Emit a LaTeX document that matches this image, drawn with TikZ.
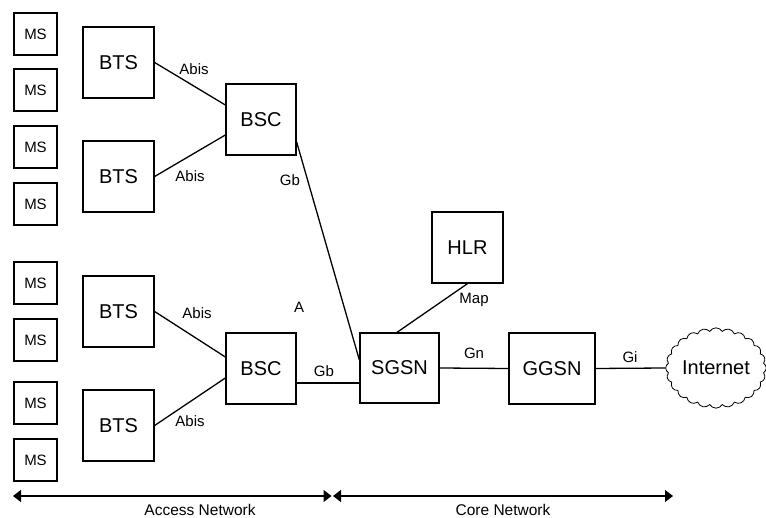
\documentclass[tikz,border=0pt]{standalone}
\usepackage{fontspec}
\setmainfont{Liberation Sans}
\usetikzlibrary{shapes.symbols,arrows.meta}
\begin{document}
\begin{tikzpicture}[x=1pt,y=-1pt,
  box/.style={draw,line width=1.3pt,inner sep=0pt,fill=white},
  msbox/.style={box,minimum width=43pt,minimum height=42pt,font=\fontsize{15}{17}\selectfont},
  bigbox/.style={box,minimum width=71pt,minimum height=71pt,font=\fontsize{20}{23}\selectfont},
  lbl/.style={font=\fontsize{15}{17}\selectfont,inner sep=0pt},
  conn/.style={line width=1.3pt},
  span/.style={line width=1.2pt,{Triangle[length=8pt,width=12pt]}-{Triangle[length=8pt,width=12pt]}}]
\useasboundingbox (0,0) rectangle (766,518);
% MS
\node[msbox] (ms1) at (35.5,34) {MS};
\node[msbox] (ms2) at (35.5,90) {MS};
\node[msbox] (ms3) at (35.5,147) {MS};
\node[msbox] (ms4) at (35.5,204) {MS};
\node[msbox] (ms5) at (35.5,283) {MS};
\node[msbox] (ms6) at (35.5,340) {MS};
\node[msbox] (ms7) at (35.5,403) {MS};
\node[msbox] (ms8) at (35.5,460) {MS};
% BTS
\node[bigbox] (bts1) at (118.5,62.5) {BTS};
\node[bigbox] (bts2) at (118.5,176.5) {BTS};
\node[bigbox] (bts3) at (118.5,311.5) {BTS};
\node[bigbox] (bts4) at (118.5,425.5) {BTS};
% BSC
\node[bigbox,minimum width=70pt] (bsc1) at (261,119.5) {BSC};
\node[bigbox,minimum width=70pt] (bsc2) at (261,368.5) {BSC};
% Core
\node[bigbox,minimum width=79pt,minimum height=70pt] (sgsn) at (399.5,368) {SGSN};
\node[bigbox,minimum width=86pt] (ggsn) at (552,368.5) {GGSN};
\node[bigbox] (hlr) at (467.5,247.5) {HLR};
\node[cloud,draw,line width=0.8pt,cloud puffs=24,cloud puff arc=120,aspect=1.3,
  minimum width=99pt,minimum height=77pt,inner sep=0pt,
  font=\fontsize{20}{23}\selectfont] (inet) at (716,368) {Internet};
% connectors
\draw[conn] (bts1.east) -- ([yshift=14.5pt]bsc1.west);
\draw[conn] (bts2.east) -- ([yshift=-15.5pt]bsc1.west);
\draw[conn] (bts3.east) -- ([yshift=11.5pt]bsc2.west);
\draw[conn] (bts4.east) -- ([yshift=-9.5pt]bsc2.west);
\draw[conn] ([yshift=-22.5pt]bsc1.east) -- ([yshift=8pt]sgsn.west);
\draw[conn] ([yshift=-14.5pt]bsc2.east) -- ([yshift=-15pt]sgsn.west);
\draw[conn] (hlr.south) -- ([xshift=-2.5pt]sgsn.north);
\draw[conn] (sgsn.east) -- (ggsn.west);
\draw[conn] (ggsn.east) -- (inet.west);
% labels
\node[lbl] (l1) at (194,69) {Abis};
\node[lbl] (l2) at (190,176) {Abis};
\node[lbl] (l3) at (290,180) {Gb};
\node[lbl] (l4) at (197,313) {Abis};
\node[lbl] (l5) at (190,421) {Abis};
\node[lbl] (l6) at (299,307) {A};
\node[lbl] (l7) at (324,371) {Gb};
\node[lbl] (l8) at (474,300) {Map};
\node[lbl] (l9) at (474,353) {Gn};
\node[lbl] (l10) at (630,357) {Gi};
% spans
\coordinate (a1) at (13,496);
\coordinate (a2) at (331.5,496);
\coordinate (c1) at (333,496);
\coordinate (c2) at (673,496);
\draw[span] (a1) -- (a2);
\draw[span] (c1) -- (c2);
\node[lbl,font=\fontsize{15.5}{17}\selectfont] (an) at (200,510) {Access Network};
\node[lbl,font=\fontsize{15.5}{17}\selectfont] (cn) at (503,510) {Core Network};
\end{tikzpicture}
\end{document}
